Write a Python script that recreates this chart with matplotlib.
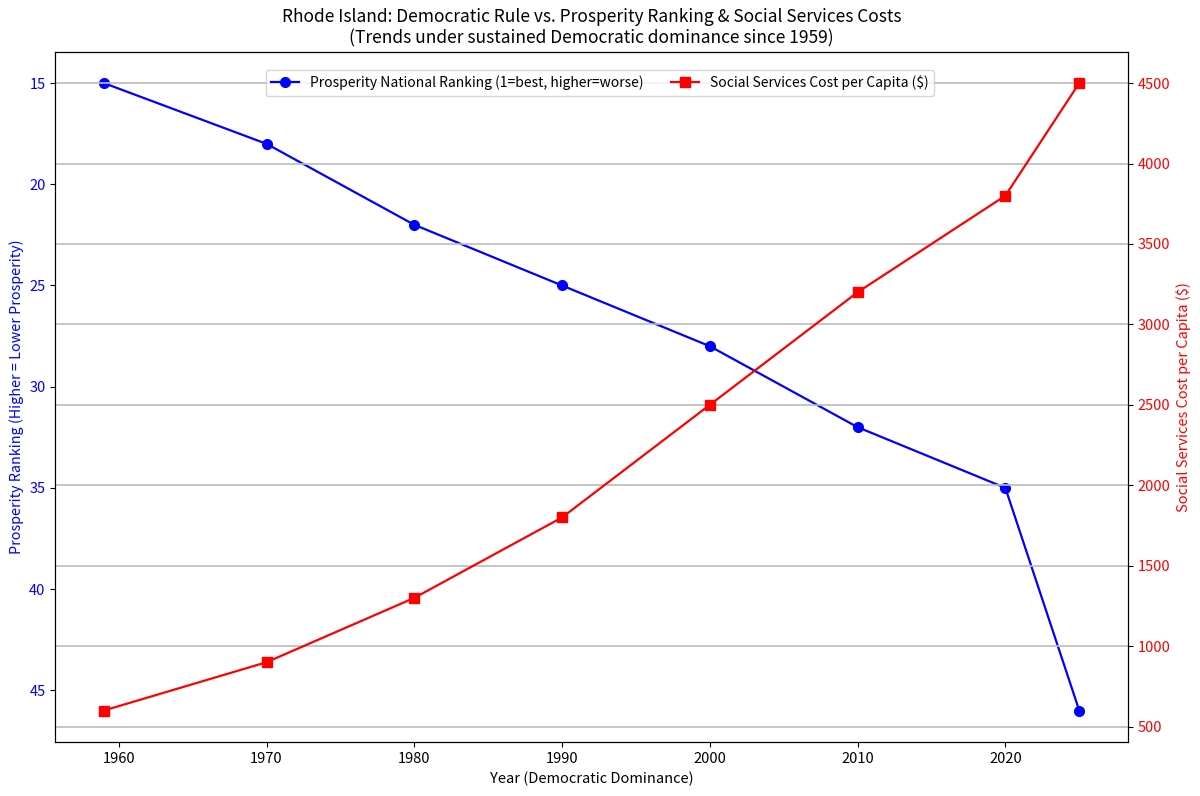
import matplotlib
matplotlib.use("Agg")
import matplotlib.pyplot as plt

plt.rcParams['font.family'] = ['Noto Sans CJK JP', 'DejaVu Sans']

years = [1959, 1970, 1980, 1990, 2000, 2010, 2020, 2025]
ranking = [15, 18, 22, 25, 28, 32, 35, 46]
cost = [600, 900, 1300, 1800, 2500, 3200, 3800, 4500]

fig = plt.figure(figsize=(12, 7.96), dpi=100)
ax1 = fig.add_axes([0.046, 0.068, 0.894, 0.867])
ax2 = ax1.twinx()

l1, = ax1.plot(years, ranking, color='blue', marker='o', markersize=7, linewidth=1.6,
               label='Prosperity National Ranking (1=best, higher=worse)')
l2, = ax2.plot(years, cost, color='red', marker='s', markersize=7, linewidth=1.6,
               label='Social Services Cost per Capita ($)')
ax1.invert_yaxis()

ax1.set_xlabel('Year (Democratic Dominance)', fontsize=10.5)
ax1.set_ylabel('Prosperity Ranking (Higher = Lower Prosperity)', color='blue', fontsize=10.3)
ax2.set_ylabel('Social Services Cost per Capita ($)', color='red', fontsize=10.5)
ax1.tick_params(axis='y', labelcolor='blue', labelsize=10.5)
ax1.tick_params(axis='x', labelsize=10.5)
ax2.tick_params(axis='y', labelcolor='red', labelsize=10.5)
ax2.grid(True, axis='y', color='#bbbbbb', linewidth=1.2)

ax1.set_title('Rhode Island: Democratic Rule vs. Prosperity Ranking & Social Services Costs\n'
              '(Trends under sustained Democratic dominance since 1959)', fontsize=12.5)
fig.legend([l1, l2], [l1.get_label(), l2.get_label()], loc='upper center', ncol=2,
           fontsize=10, bbox_to_anchor=(0.5, 0.921))

fig.savefig('out.png', dpi=100)
